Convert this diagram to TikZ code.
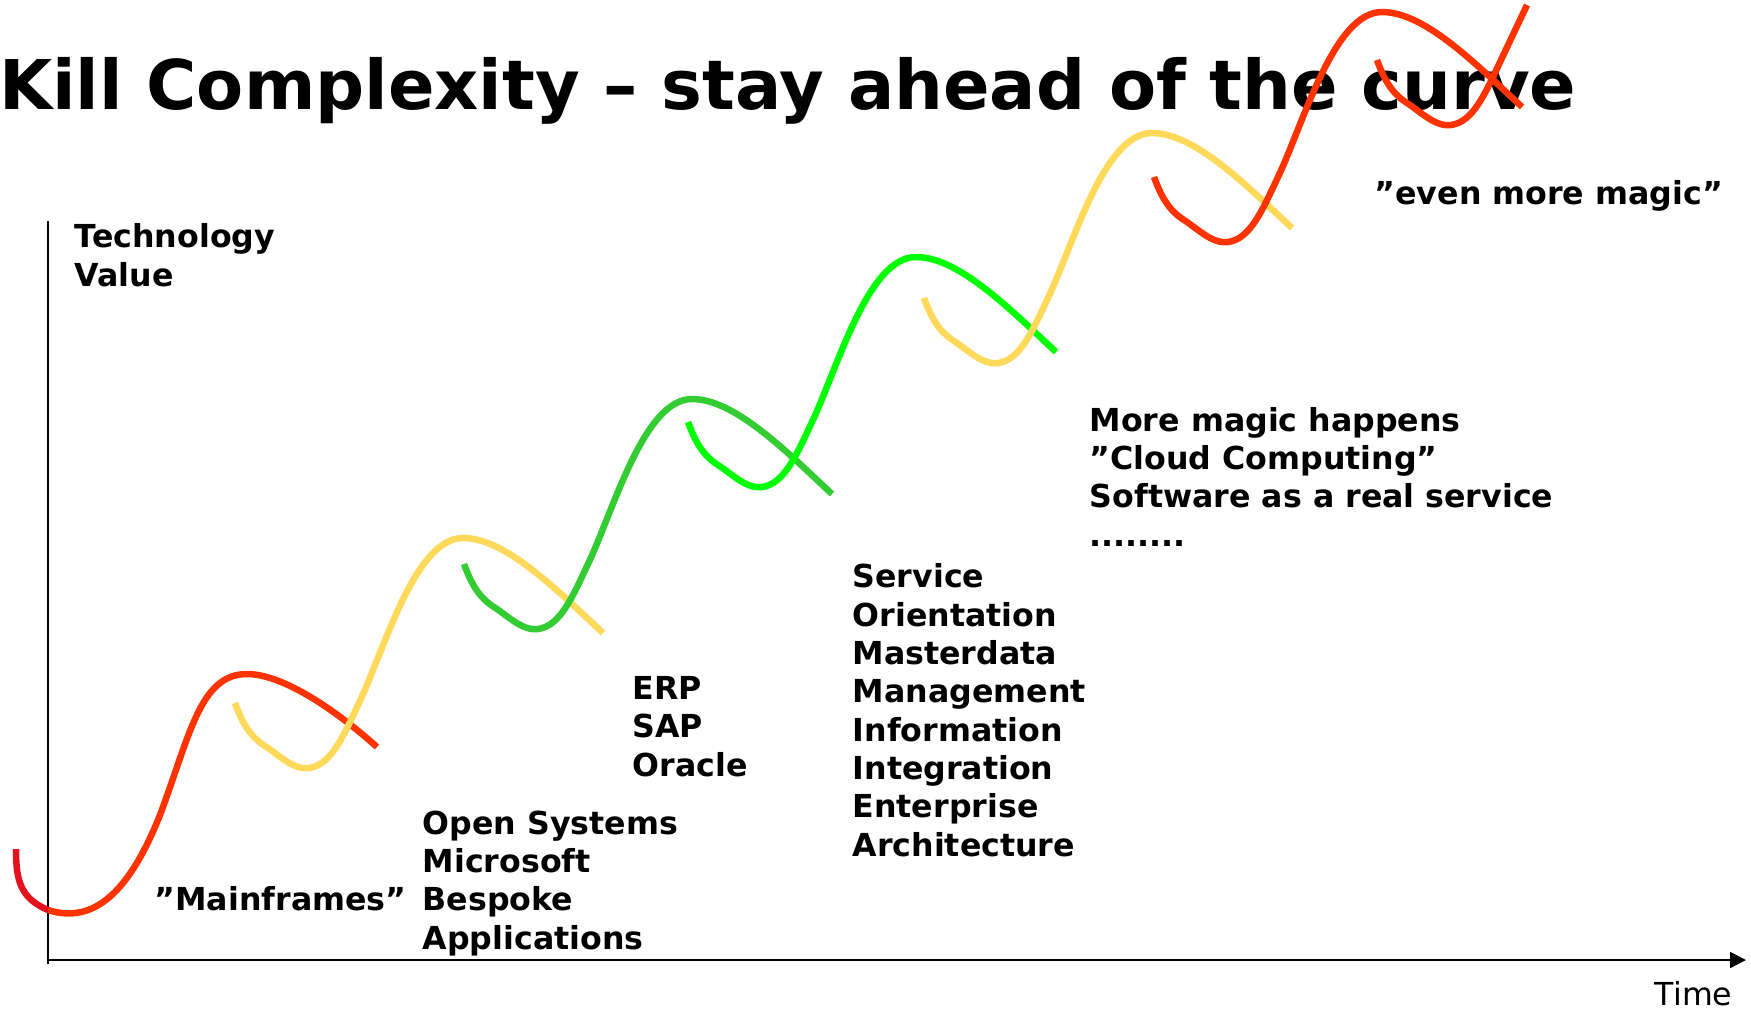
\documentclass[tikz,border=0pt]{standalone}
\usepackage{fontspec}
\setmainfont{DejaVu Sans}
\usetikzlibrary{arrows.meta}
\definecolor{flame}{RGB}{255,51,0}
\definecolor{crimson}{RGB}{228,18,28}
\definecolor{sunyellow}{RGB}{255,217,90}
\definecolor{leafgreen}{RGB}{51,204,51}
\definecolor{limegreen}{RGB}{0,255,0}
\tikzset{
  wave/.style={line width=1.85pt},
  axis/.style={line width=0.6pt},
  lbl/.style={font=\bfseries\fontsize{9}{10.9}\selectfont, align=left, anchor=base west, inner sep=0pt}
}

\begin{document}
\begin{tikzpicture}[x=0.01cm,y=-0.01cm]
\useasboundingbox (0,0) rectangle (1751,1008);
\node[font=\bfseries\fontsize{19.5}{22}\selectfont, anchor=base east, inner sep=0pt] (title) at (1577,109) {Kill Complexity – stay ahead of the curve};
\coordinate (origin) at (48,960);
\coordinate (ybot) at (48,964);
\coordinate (ytop) at (48,221);
\coordinate (xend) at (1746,960);
\draw[axis] (ybot) -- (ytop);
\draw[axis,-{Triangle[length=4.5pt,width=4.5pt]}] (origin) -- (xend);
\draw[wave,crimson] (16,849) .. controls (16,880) and (20,898) .. (48,910);
\draw[wave,flame] (48,910) .. controls (95,925) and (130,890) .. (160,815)
.. controls (190,735) and (200,674) .. (247,674)
.. controls (280,674) and (330,705) .. (377,747);
\foreach \sx/\sy/\col in {235/703/sunyellow, 464/564/leafgreen, 688/422/limegreen, 924/298/sunyellow, 1154/177/flame}
\draw[wave,\col,shift={(\sx,\sy)}] (0,0) .. controls (8,22) and (16,34) .. (30,43)
.. controls (44,52) and (58,67) .. (74,65)
.. controls (96,62) and (108,34) .. (124,0)
.. controls (150,-55) and (180,-165) .. (228,-165)
.. controls (270,-165) and (320,-115) .. (368,-70);
\draw[wave,flame,shift={(1377,60)}] (0,0) .. controls (8,22) and (16,34) .. (30,43)
.. controls (44,52) and (58,67) .. (74,65)
.. controls (96,62) and (108,34) .. (124,0) -- (150,-55);
\node[lbl] (techvalue) at (74,286) {Technology\\Value};
\node[lbl] (mainframes) at (154,910) {”Mainframes”};
\node[lbl] (opensys) at (422,949) {Open Systems\\Microsoft\\Bespoke\\Applications};
\node[lbl] (erp) at (632,776) {ERP\\SAP\\Oracle};
\node[lbl] (soa) at (852,856) {Service\\Orientation\\Masterdata\\Management\\Information\\Integration\\Enterprise\\Architecture};
\node[lbl] (cloud) at (1089,546) {More magic happens\\”Cloud Computing”\\Software as a real service\\........};
\node[lbl] (magic) at (1374,204) {”even more magic”};
\node[font=\fontsize{9}{10.9}\selectfont, anchor=base east, inner sep=0pt] (time) at (1733,1005) {Time};
\end{tikzpicture}
\end{document}
